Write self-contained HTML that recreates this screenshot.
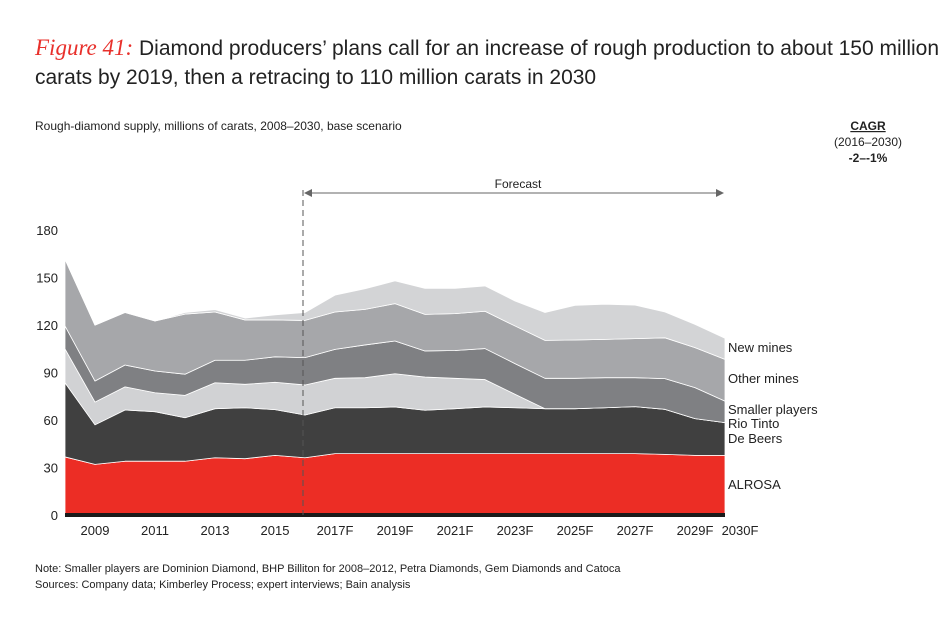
<!DOCTYPE html>
<html><head><meta charset="utf-8"><style>
body{margin:0;background:#fff;font-family:"Liberation Sans",sans-serif;}
svg text{font-family:"Liberation Sans",sans-serif;fill:#222;}
</style></head><body>
<svg width="950" height="625" viewBox="0 0 950 625" xmlns="http://www.w3.org/2000/svg">
<text x="35" y="55" font-size="21"><tspan fill="#e8302b" font-family="Liberation Serif" font-style="italic" font-size="23" style="fill:#e8302b;font-family:'Liberation Serif'">Figure 41:</tspan> Diamond producers’ plans call for an increase of rough production to about 150 million</text>
<text x="35" y="84" font-size="21">carats by 2019, then a retracing to 110 million carats in 2030</text>
<text x="35" y="130" font-size="12">Rough-diamond supply, millions of carats, 2008–2030, base scenario</text>
<text x="868" y="130" font-size="12" font-weight="bold" text-anchor="middle" text-decoration="underline">CAGR</text>
<text x="868" y="146" font-size="12" text-anchor="middle">(2016–2030)</text>
<text x="868" y="162" font-size="12" font-weight="bold" text-anchor="middle">-2–-1%</text>
<g id="plot"></g>
<text x="35" y="572" font-size="11">Note: Smaller players are Dominion Diamond, BHP Billiton for 2008–2012, Petra Diamonds, Gem Diamonds and Catoca</text>
<text x="35" y="588" font-size="11">Sources: Company data; Kimberley Process; expert interviews; Bain analysis</text>
</svg>
<script>
const years=[2008,2009,2010,2011,2012,2013,2014,2015,2016,2017,2018,2019,2020,2021,2022,2023,2024,2025,2026,2027,2028,2029,2030];
const alrosa=[36.7,32,34,34,34,36.2,35.6,37.7,36.2,38.8,38.8,38.8,38.8,38.8,38.8,38.8,38.8,38.8,38.8,38.8,38.3,37.7,37.7];
const deBeers=[46.9,25,32.4,31.3,27.5,31,32.2,28.9,27,29,29,29.5,27.4,28.4,29.5,29,28.4,28.4,29,29.7,28.5,23.2,20.7];
const rioTinto=[21.4,14.4,14.6,12,14.1,16.4,14.8,17.3,19,18.6,19,21,21,19.2,17.3,8.5,0,0,0,0,0,0,0];
const smallerPlayers=[14.5,13.3,13.8,13.7,13.4,14.2,15.2,16.1,17.3,18.3,20.7,20.7,16.5,17.6,19.6,19.4,19.2,19.2,19,18.3,19.4,19.6,13.6];
const otherMines=[42.1,35.3,33.2,31.6,38,30.5,25.5,23.3,23.5,23.6,22.5,23.6,23.1,23.3,23.6,23.8,24,24.2,24.2,24.7,25.8,25.3,26.4];
const newMines=[0,0,0,0,1,1.5,1.2,3.2,5,10.7,13,14.4,16.5,16,16,15.8,17.6,21.9,22.2,21.2,16.3,14.7,13.3];
const yTicks=[0,30,60,90,120,150,180];
const xLabels=["2009","2011","2013","2015","2017F","2019F","2021F","2023F","2025F","2027F","2029F","2030F"];
const xLabelYears=[2009,2011,2013,2015,2017,2019,2021,2023,2025,2027,2029,2030];
const forecastStart=2016;

const NS="http://www.w3.org/2000/svg";
const g=document.getElementById('plot');
const x=v=>65+(v-2008)*30;
const y=v=>515-v*1.582;
function mk(t,a){const e=document.createElementNS(NS,t);for(const k in a)e.setAttribute(k,a[k]);g.appendChild(e);return e;}
const layers=[[alrosa,'#ec2d25','alrosa'],[deBeers,'#404040','de-beers'],[rioTinto,'#d1d2d4','rio-tinto'],[smallerPlayers,'#7f8083','smaller-players'],[otherMines,'#a6a7aa','other-mines'],[newMines,'#d3d4d6','new-mines']];
let base=years.map(()=>0);
layers.forEach(([vals,col,name])=>{
  const top=base.map((b,i)=>b+vals[i]);
  let d='M'+years.map((yr,i)=>x(yr)+','+y(top[i])).join('L');
  for(let i=years.length-1;i>=0;i--)d+='L'+x(years[i])+','+y(base[i]);
  const p=mk('path',{d:d+'Z',fill:col,stroke:'#fff','stroke-width':0.8,'stroke-linejoin':'round'});
  
  
  base=top;
});
const bl=mk('rect',{x:x(2008),y:513,width:x(2030)-x(2008),height:4,fill:'#1a1a1a'});


yTicks.forEach(t=>{const e=mk('text',{x:58,y:y(t)+5,'font-size':13,'text-anchor':'end'});e.textContent=t;

});
xLabels.forEach((l,i)=>{const yr=xLabelYears[i];const e=mk('text',{x:x(yr)+(yr===2030?15:0),y:535,'font-size':13,'text-anchor':'middle'});e.textContent=l;

});
const dl=mk('line',{x1:x(forecastStart)-2,x2:x(forecastStart)-2,y1:190,y2:515,stroke:'#555','stroke-dasharray':'6,4','stroke-width':1});


const al=mk('line',{x1:x(forecastStart)+2,x2:x(2030)-2,y1:193,y2:193,stroke:'#666','stroke-width':1});


const a1=mk('path',{d:`M${x(forecastStart)-1},193 l8,-4 l0,8z`,fill:'#666'});


const a2=mk('path',{d:`M${x(2030)-1},193 l-8,-4 l0,8z`,fill:'#666'});


const ft=mk('text',{x:518,y:188,'font-size':12,'text-anchor':'middle'});ft.textContent='Forecast';


[['New mines',352],['Other mines',383],['Smaller players',414],['Rio Tinto',428],['De Beers',443],['ALROSA',489]].forEach(([t,yy])=>{
 const e=mk('text',{x:728,y:yy,'font-size':13});e.textContent=t;
 
 
});
</script>
</body></html>
